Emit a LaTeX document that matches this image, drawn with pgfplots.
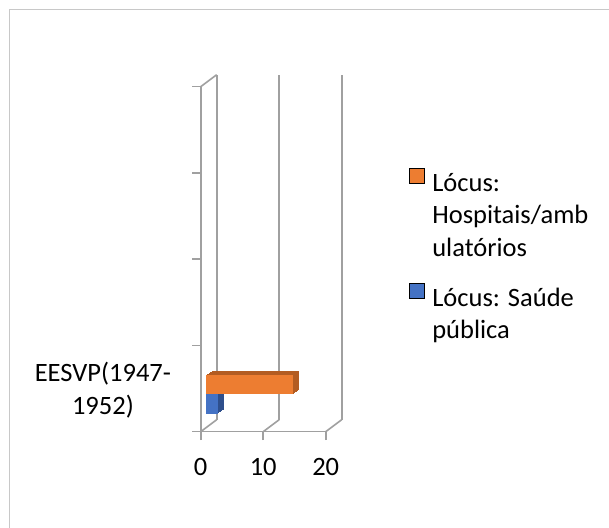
\documentclass[border=0pt]{standalone}
\usepackage{pgfplots}
\pgfplotsset{compat=1.18}
\usepackage{fontspec}
\setmainfont{Carlito}
\definecolor{gridgray}{HTML}{A0A0A0}
\definecolor{bordergray}{HTML}{C8C8C8}
\definecolor{orangeA}{HTML}{ED7D31}
\definecolor{orangeD}{HTML}{B35C22}
\definecolor{blueA}{HTML}{4472C4}
\definecolor{blueD}{HTML}{2E4F8C}
\newcommand\fs{\fontsize{26.5bp}{32.5bp}\selectfont}
\pgfplotsset{
  blueside/.style={xbar, bar shift=0pt, bar width=0.224, fill=blueD, draw=none, forget plot},
  orangeside/.style={xbar, bar shift=0pt, bar width=0.224, fill=orangeD, draw=none, forget plot},
}
\begin{document}
\begin{tikzpicture}[x=1bp,y=1bp]
\useasboundingbox (0,0) rectangle (609,528);
\fill[white] (0,0) rectangle (609,528);
\draw[bordergray, line width=1bp] (9,0) -- (9,518) -- (609,518);
% back wall
\begin{axis}[at={(216.7bp,108.3bp)}, anchor=south west, scale only axis,
  width=125bp, height=345bp, xmin=0, xmax=20, ymin=0, ymax=4, clip=false,
  axis line style={draw=none}, xtick={0,10,20}, ytick=\empty, xticklabels={},
  major tick length=0pt, xmajorgrids, grid style={gridgray, line width=1.6bp}]
\end{axis}
% front
\begin{axis}[at={(200.7bp,96.3bp)}, anchor=south west, scale only axis,
  width=125bp, height=345bp, xmin=0, xmax=20, ymin=0, ymax=4, clip=false,
  axis lines*=left, axis line style={gridgray, line width=1.6bp},
  tick style={gridgray, line width=1.6bp}, tick align=outside,
  xtick={0,10,20}, ytick={0,1,2,3,4}, yticklabels={},
  major tick length=8.5bp,
  /pgf/number format/assume math mode=true,
  tick label style={font=\fs},
  xticklabel style={yshift=-15bp},
  extra y ticks={0.5}, extra y tick labels={EESVP(1947-\\1952)},
  extra y tick style={tick style={draw=none}, yticklabel style={align=center, inner sep=0pt, xshift=-21bp, yshift=-1.5bp}},
  legend image code/.code={\fill[#1] (0bp,0bp) rectangle (15bp,15bp);},
  legend cell align=left,
  legend style={at={(1.661,0.766)}, anchor=north west, draw=none, fill=none,
    inner sep=0pt, row sep=90bp, column sep=8.4bp, font=\fs,
    nodes={inner sep=0pt}},
]
\addlegendimage{fill=orangeA}
\addlegendentry{\vtop{\hbox{Lócus:}\hbox{Hospitais/amb}\hbox{ulatórios}}}
\addlegendimage{fill=blueA}
\addlegendentry{\vtop{\hbox{Lócus: Saúde}\hbox{pública}}}
% floor / wall edges
\draw[gridgray, line width=1.6bp] (axis cs:0,4) -- ++(16bp,12bp);
\draw[gridgray, line width=1.6bp] (axis cs:0,0) -- ++(16bp,12bp);
\draw[gridgray, line width=1.6bp] (axis cs:10,0) -- ++(16bp,12bp);
\draw[gridgray, line width=1.6bp] (axis cs:20,0) -- ++(16bp,12bp);
% blue bar (Saude publica): depth faces then front face
\addplot[blueside, xshift=11bp, yshift=7.75bp] coordinates {(2,0.276)};
\addplot[blueside, xshift=10bp, yshift=7.08bp] coordinates {(2,0.276)};
\addplot[blueside, xshift=9bp, yshift=6.42bp] coordinates {(2,0.276)};
\addplot[blueside, xshift=8bp, yshift=5.75bp] coordinates {(2,0.276)};
\addplot[blueside, xshift=7bp, yshift=5.08bp] coordinates {(2,0.276)};
\addplot[blueside, xshift=6bp, yshift=4.42bp] coordinates {(2,0.276)};
\addplot[blueside, fill=blueA, xshift=5bp, yshift=3.75bp] coordinates {(2,0.276)};
% orange bar (Hospitais/ambulatorios)
\addplot[orangeside, xshift=11bp, yshift=7.75bp] coordinates {(14,0.5)};
\addplot[orangeside, xshift=10bp, yshift=7.08bp] coordinates {(14,0.5)};
\addplot[orangeside, xshift=9bp, yshift=6.42bp] coordinates {(14,0.5)};
\addplot[orangeside, xshift=8bp, yshift=5.75bp] coordinates {(14,0.5)};
\addplot[orangeside, xshift=7bp, yshift=5.08bp] coordinates {(14,0.5)};
\addplot[orangeside, xshift=6bp, yshift=4.42bp] coordinates {(14,0.5)};
\addplot[orangeside, fill=orangeA, xshift=5bp, yshift=3.75bp] coordinates {(14,0.5)};
\end{axis}
\end{tikzpicture}
\end{document}
